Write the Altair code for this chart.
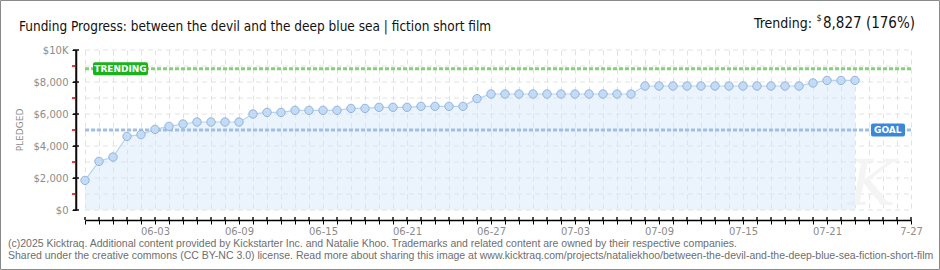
import json
import altair as alt
import pandas as pd

# ---------------- data ----------------
start_date = "2025-05-29"
pledged = [1850, 3040, 3310, 4600, 4710, 5040, 5230, 5375, 5500, 5500,
           5500, 5500, 6000, 6100, 6100, 6230, 6230, 6230, 6230, 6350,
           6350, 6420, 6420, 6420, 6480, 6480, 6480, 6480, 6960, 7250,
           7250, 7250, 7250, 7250, 7250, 7250, 7250, 7250, 7250, 7250,
           7750, 7750, 7750, 7750, 7750, 7750, 7750, 7750, 7750, 7750,
           7750, 7750, 7940, 8100, 8100, 8100]
goal = 5000
trend = 8827
last_day = 59  # 07-27

x_tick_days = [5, 11, 17, 23, 29, 35, 41, 47, 53, 59]
x_tick_labels = ["06-03", "06-09", "06-15", "06-21", "06-27",
                 "07-03", "07-09", "07-15", "07-21", "7-27"]
y_major_values = [0, 2000, 4000, 6000, 8000, 10000]
y_major_labels = ["$0", "$2,000", "$4,000", "$6,000", "$8,000", "$10K"]
y_minor_values = [1000, 3000, 5000, 7000, 9000]
y_grid_values = list(range(0, 10001, 1000))

title_text = "Funding Progress: between the devil and the deep blue sea | fiction short film"
trend_word = "Trending:"
trend_dollar = "$"
trend_amount = "8,827 (176%)"
footer_1 = ("(c)2025 Kicktraq. Additional content provided by Kickstarter Inc. and Natalie Khoo. "
            "Trademarks and related content are owned by their respective companies.")
footer_2 = ("Shared under the creative commons (CC BY-NC 3.0) license. Read more about sharing this "
            "image at www.kicktraq.com/projects/nataliekhoo/between-the-devil-and-the-deep-blue-sea-fiction-short-film")
y_title = "PLEDGED"

dates = pd.date_range(start_date, periods=len(pledged)).strftime("%m-%d").tolist()
df = pd.DataFrame({"day": list(range(len(pledged))), "date": dates, "pledged": pledged})
one = pd.DataFrame({"k": [0]})
minor_df = pd.DataFrame({"v": y_minor_values})
major_df = pd.DataFrame({"v": y_major_values})
grid_df = pd.DataFrame({"v": y_grid_values})
days_df = pd.DataFrame({"d": list(range(last_day + 1))})

# ---------------- layout ----------------
W, H = 826, 160
PL, PT = 85, 50
PR, PB = 940 - PL - W, 270 - PT - H

title_font = "DejaVu Sans Condensed, DejaVu Sans, sans-serif"
axis_font = "DejaVu Sans"

x_label_expr = (f"indexof({json.dumps(x_tick_days)}, datum.value) >= 0 ? "
                f"{json.dumps(x_tick_labels)}[indexof({json.dumps(x_tick_days)}, datum.value)] : ''")
y_label_expr = (f"{json.dumps(y_major_labels)}"
                f"[indexof({json.dumps(y_major_values)}, datum.value)]")

x_scale = alt.Scale(domain=[0, last_day], nice=False, zero=False)
y_scale = alt.Scale(domain=[0, 10000], nice=False)

x_axis = alt.X(
    "day:Q", scale=x_scale,
    axis=alt.Axis(values=list(range(last_day + 1)), labelExpr=x_label_expr,
                  labelOverlap=False, labelFlush=False, tickSize=4, offset=10,
                  labelPadding=2, grid=True, title=None, domain=True, ticks=True,
                  domainWidth=1.5),
)
y_axis = alt.Y(
    "pledged:Q", scale=y_scale,
    axis=alt.Axis(values=y_major_values, labelExpr=y_label_expr, offset=9,
                  labelOverlap=False, labelFlush=False,
                  tickSize=4, labelPadding=4, grid=False, title=None,
                  domain=True, ticks=True, domainColor="#000000", tickColor="#000000",
                  domainWidth=1.5),
)
x_plain = alt.X("day:Q", scale=x_scale, axis=None)
y_plain = alt.Y("pledged:Q", scale=y_scale, axis=None)

base = alt.Chart(df)

hgrid = alt.Chart(grid_df).mark_rule(color="#e2e2e2", strokeDash=[5, 4], strokeWidth=1).encode(
    y=alt.Y("v:Q", scale=y_scale, axis=None), x=alt.value(0), x2=alt.value(W))

watermark = alt.Chart(one).mark_text(
    text="K", font="DejaVu Serif", fontStyle="italic", fontSize=64, color="#f4f4f4",
    align="center", baseline="middle").encode(x=alt.value(787), y=alt.value(136))

area = base.mark_area(color="#d3e4f8", opacity=0.45).encode(x=x_axis, y=y_axis)

goal_rule = alt.Chart(one).mark_rule(color="#9fc0e6", strokeWidth=3, strokeDash=[4, 2]).encode(
    y=alt.YDatum(goal, scale=y_scale, axis=None), x=alt.value(0), x2=alt.value(W))
trend_rule = alt.Chart(one).mark_rule(color="#85d07a", strokeWidth=3, strokeDash=[4, 2]).encode(
    y=alt.YDatum(trend, scale=y_scale, axis=None), x=alt.value(0), x2=alt.value(W))

line = base.mark_line(color="#b7d3f2", strokeWidth=1.2).encode(x=x_plain, y=y_plain)
points = base.mark_point(shape="circle", filled=True, size=70, fill="#c4dbf6",
                         stroke="#93b3db", strokeWidth=1, opacity=1).encode(x=x_plain, y=y_plain)

# axis line and crossing ticks
y_domain = alt.Chart(one).mark_rule(color="#111111", strokeWidth=1.5).encode(
    y=alt.YDatum(0, scale=y_scale, axis=None), y2=alt.datum(10000), x=alt.value(-9))
major_ticks = alt.Chart(major_df).mark_rule(color="#111111", strokeWidth=1.5).encode(
    y=alt.Y("v:Q", scale=y_scale, axis=None), x=alt.value(-12), x2=alt.value(-6))
minor_ticks = alt.Chart(minor_df).mark_rule(color="#e00000", strokeWidth=1.5).encode(
    y=alt.Y("v:Q", scale=y_scale, axis=None), x=alt.value(-13), x2=alt.value(-9.5))
x_ticks_up = alt.Chart(days_df).mark_rule(color="#111111", strokeWidth=1.5).encode(
    x=alt.X("d:Q", scale=x_scale, axis=None), y=alt.value(H + 7), y2=alt.value(H + 10))

trend_box = alt.Chart(one).mark_rect(color="#1bb31b", cornerRadius=2, yOffset=-6.5, y2Offset=6.5).encode(
    y=alt.YDatum(trend, scale=y_scale, axis=None), y2=alt.datum(trend), x=alt.value(8), x2=alt.value(63))
trend_lbl = alt.Chart(one).mark_text(text="TRENDING", color="white", font=axis_font, fontWeight="bold",
                                     fontSize=9, align="center", baseline="middle").encode(
    y=alt.YDatum(trend, scale=y_scale, axis=None), x=alt.value(35.5))
goal_box = alt.Chart(one).mark_rect(color="#3b88d8", cornerRadius=2, yOffset=-6.5, y2Offset=6.5).encode(
    y=alt.YDatum(goal, scale=y_scale, axis=None), y2=alt.datum(goal), x=alt.value(786), x2=alt.value(820))
goal_lbl = alt.Chart(one).mark_text(text="GOAL", color="white", font=axis_font, fontWeight="bold",
                                    fontSize=9, align="left", baseline="middle").encode(
    y=alt.YDatum(goal, scale=y_scale, axis=None), x=alt.value(789))


def txt(text, x, y, **kw):
    return alt.Chart(one).mark_text(text=text, **kw).encode(x=alt.value(x), y=alt.value(y))


title = txt(title_text, 19 - PL, 31 - PT, font=title_font, fontSize=13.5, color="#111",
            align="left", baseline="alphabetic")
t_word = txt(trend_word, 812 - PL, 27.5 - PT, font=title_font, fontSize=14, color="#111",
             align="right", baseline="alphabetic")
t_dollar = txt(trend_dollar, 816.5 - PL, 21 - PT, font=title_font, fontSize=9, color="#111",
               align="left", baseline="alphabetic")
t_amount = txt(trend_amount, 823 - PL, 27.5 - PT, font=title_font, fontSize=15, color="#111",
               align="left", baseline="alphabetic")
f1 = txt(footer_1, 8 - PL, 247 - PT, font="Liberation Sans", fontSize=10.5, color="#6e6e6e",
         align="left", baseline="alphabetic")
f2 = txt(footer_2, 8 - PL, 259 - PT, font="Liberation Sans", fontSize=10.5, color="#6e6e6e",
         align="left", baseline="alphabetic")
ytitle = txt(y_title, 20 - PL, 130 - PT, font=axis_font, fontSize=9, color="#8c8c8c",
             angle=270, align="center", baseline="middle")
border = alt.Chart(one).mark_rect(fill="white", fillOpacity=0, stroke="#8a8a8a", strokeWidth=1).encode(
    x=alt.value(0.5 - PL), x2=alt.value(939.5 - PL), y=alt.value(0.5 - PT), y2=alt.value(269.5 - PT))

chart = alt.layer(
    hgrid, watermark, area, goal_rule, trend_rule, line, points,
    y_domain, major_ticks, minor_ticks, x_ticks_up,
    trend_box, trend_lbl, goal_box, goal_lbl,
    title, t_word, t_dollar, t_amount, f1, f2, ytitle, border,
).resolve_axis(x="independent", y="independent").properties(
    width=W, height=H,
    autosize=alt.AutoSizeParams(type="none"),
    padding={"left": PL, "top": PT, "right": PR, "bottom": PB},
    background="white",
).configure_view(strokeWidth=0).configure_axis(
    domainColor="#000000", tickColor="#000000", labelColor="#8c8c8c",
    labelFont=axis_font, labelFontSize=10, gridColor="#e2e2e2", gridDash=[5, 4],
)

chart.save("out.html", embed_options={"renderer": "svg", "actions": False})
